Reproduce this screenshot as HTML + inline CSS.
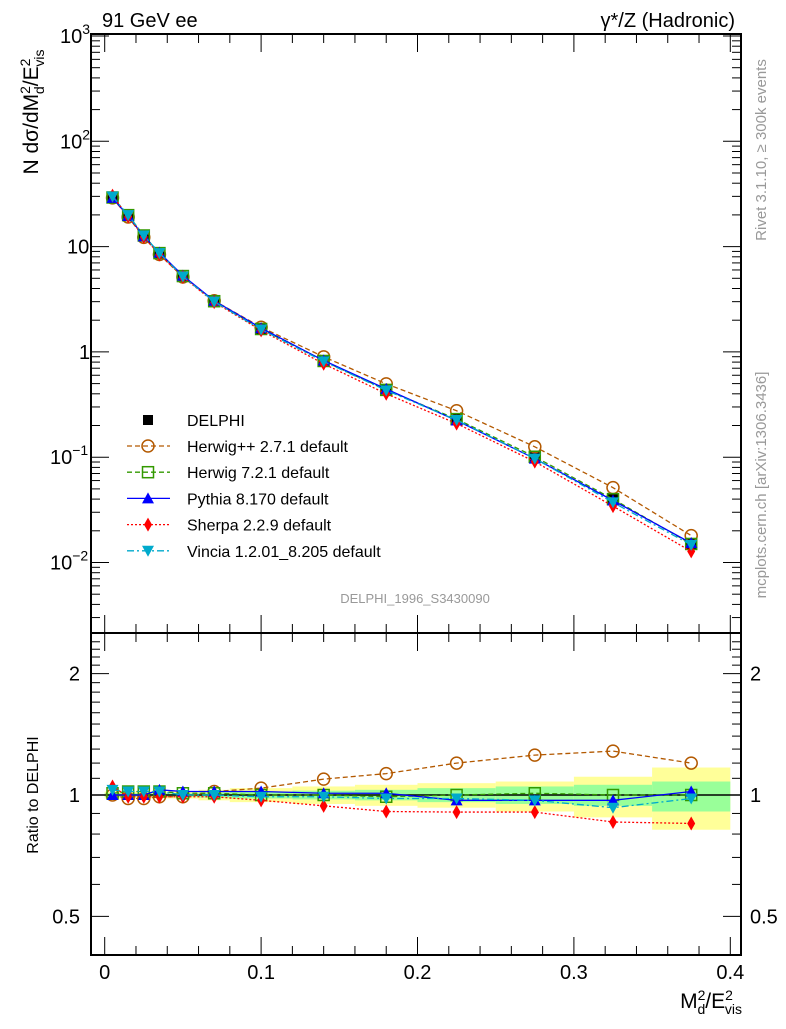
<!DOCTYPE html>
<html><head><meta charset="utf-8"><style>
html,body{margin:0;padding:0;background:#fff;}
svg text{font-family:"Liberation Sans",sans-serif;}
</style></head><body>
<svg id="c" width="786" height="1024" viewBox="0 0 786 1024" xmlns="http://www.w3.org/2000/svg"></svg>
<script>
const xCenters=[0.005,0.015,0.025,0.035,0.05,0.07,0.1,0.14,0.18,0.225,0.275,0.325,0.375];
const binEdges=[0,0.01,0.02,0.03,0.04,0.06,0.08,0.12,0.16,0.2,0.25,0.3,0.35,0.4];
const delphi=[29,19.5,12.5,8.5,5.2,3.0,1.65,0.82,0.44,0.23,0.10,0.040,0.015];
const rHerwigpp=[1.0,0.98,0.98,0.99,0.99,1.02,1.04,1.095,1.13,1.2,1.256,1.285,1.2];
const rHerwig7=[1.01,1.02,1.02,1.02,1.01,1.01,1.0,1.0,0.99,1.0,1.01,1.0,1.0];
const rPythia=[1.0,1.0,1.0,1.03,1.02,1.02,1.02,1.01,1.01,0.97,0.97,0.97,1.02];
const rSherpa=[1.05,0.99,0.99,0.99,0.99,0.99,0.97,0.94,0.91,0.907,0.907,0.857,0.85];
const rVincia=[1.03,1.02,1.02,1.02,1.0,1.0,0.99,0.99,0.98,0.98,0.97,0.93,0.98];
const yellowUp=[1.02,1.02,1.02,1.02,1.02,1.03,1.04,1.05,1.06,1.07,1.08,1.11,1.17];
const yellowLo=[0.98,0.98,0.98,0.98,0.98,0.97,0.96,0.95,0.94,0.93,0.91,0.88,0.82];
const greenUp=[1.01,1.01,1.01,1.01,1.01,1.015,1.02,1.025,1.03,1.04,1.05,1.06,1.08];
const greenLo=[0.99,0.99,0.99,0.99,0.99,0.985,0.98,0.975,0.97,0.96,0.95,0.94,0.91];
const xTicks=[0,0.1,0.2,0.3,0.4];
const xTickLabels=["0","0.1","0.2","0.3","0.4"];

const svg=document.getElementById('c');
const NS='http://www.w3.org/2000/svg';
const L=91,R=741,T=34,MB=633,RB=955;
const X=v=>104.7+v*1564;
const Y=v=>36-(Math.log10(v)-3)*105.3;
const YR=v=>795-Math.log10(v)*403;
function el(tag,attrs,parent){const e=document.createElementNS(NS,tag);for(const k in attrs)e.setAttribute(k,attrs[k]);(parent||svg).appendChild(e);return e;}
function txt(s,x,y,size,anchor,parent,fill){const t=el('text',{x:x,y:y,'font-size':size,'text-anchor':anchor||'start',fill:fill||'#000'},parent);t.textContent=s;return t;}

const gb=el('g',{});


for(let i=0;i<xCenters.length;i++){
 const x0=X(binEdges[i]),x1=X(binEdges[i+1]);
 const y=el('rect',{x:x0,y:YR(yellowUp[i]),width:x1-x0,height:YR(yellowLo[i])-YR(yellowUp[i]),fill:'#ffff99'},gb);
 
 
 const g=el('rect',{x:x0,y:YR(greenUp[i]),width:x1-x0,height:YR(greenLo[i])-YR(greenUp[i]),fill:'#99ff99'},gb);
 
 
}
el('line',{x1:L,x2:R,y1:YR(1),y2:YR(1),stroke:'#000','stroke-width':1.5});

for(const [t,b] of [[T,MB],[MB,RB]]){
 const f=el('rect',{x:L,y:t,width:R-L,height:b-t,fill:'none',stroke:'#000','stroke-width':2});
 
 
 for(let v=0;v<=0.4001;v+=0.02){
  const major=Math.abs(v*10-Math.round(v*10))<1e-6;const len=major?18:9;
  el('line',{x1:X(v),x2:X(v),y1:b,y2:b-len,stroke:'#000','stroke-width':1});
  el('line',{x1:X(v),x2:X(v),y1:t,y2:t+len,stroke:'#000','stroke-width':1});
 }
}
for(let d=-3;d<=3;d++){for(let m=1;m<10;m++){const v=m*Math.pow(10,d);const y=Y(v);if(y<T-0.5||y>MB)continue;const len=m==1?18:9;
 el('line',{x1:L,x2:L+len,y1:y,y2:y,stroke:'#000'});el('line',{x1:R,x2:R-len,y1:y,y2:y,stroke:'#000'});}}
const ylab=[[1000,'10','3'],[100,'10','2'],[10,'10',''],[1,'1',''],[0.1,'10','−1'],[0.01,'10','−2']];
for(const [v,b,e] of ylab){
 let x=b=='1'?79:(e?(e.length>1?50:60):67);
 const t=txt(b,x,Y(v)+7,20,'start');
 if(e){const s=el('tspan',{dy:-9,'font-size':14});s.textContent=e;t.appendChild(s);}
 }
for(let v=0.4;v<=2.5;v+=0.1){const y=YR(v);if(y<MB||y>RB)continue;const maj=[0.5,1,2].some(m=>Math.abs(m-v)<1e-6);const len=maj?18:9;
 el('line',{x1:L,x2:L+len,y1:y,y2:y,stroke:'#000'});el('line',{x1:R,x2:R-len,y1:y,y2:y,stroke:'#000'});}
for(const [v,s] of [[2,'2'],[1,'1'],[0.5,'0.5']]){txt(s,80,YR(v)+7,20,'end');txt(s,750,YR(v)+7,20,'start');}
xTicks.forEach((v,i)=>{const t=txt(xTickLabels[i],X(v),979,20,'middle');});

const series=[
 {name:'herwigpp',r:rHerwigpp,color:'#b35900',dash:'5,3',mk:'circle'},
 {name:'herwig7',r:rHerwig7,color:'#339900',dash:'5,3',mk:'square'},
 {name:'pythia',r:rPythia,color:'#0000ff',dash:'',mk:'tri'},
 {name:'sherpa',r:rSherpa,color:'#ff0000',dash:'2,2',mk:'diamond'},
 {name:'vincia',r:rVincia,color:'#00aacc',dash:'7,3,2,3',mk:'tridown'}];
function marker(kind,x,y,color,parent){
 if(kind=='circle')return el('circle',{cx:x,cy:y,r:6,fill:'none',stroke:color,'stroke-width':1.5},parent);
 if(kind=='square')return el('rect',{x:x-5.5,y:y-5.5,width:11,height:11,fill:'none',stroke:color,'stroke-width':1.5},parent);
 if(kind=='fsquare')return el('rect',{x:x-5,y:y-5,width:10,height:10,fill:color},parent);
 if(kind=='tri')return el('polygon',{points:`${x},${y-6} ${x-6},${y+5} ${x+6},${y+5}`,fill:color},parent);
 if(kind=='tridown')return el('polygon',{points:`${x},${y+6} ${x-6},${y-5} ${x+6},${y-5}`,fill:color},parent);
 if(kind=='diamond')return el('polygon',{points:`${x},${y-7} ${x-4},${y} ${x},${y+7} ${x+4},${y}`,fill:color},parent);
}
const gd=el('g',{});


for(const s of series){
 for(const yf of [Y,YR]){
  const g=el('g',{});
  
  
  const pts=xCenters.map((x,i)=>[X(x),yf===Y?Y(delphi[i]*s.r[i]):YR(s.r[i])]);
  el('polyline',{points:pts.map(p=>p.join(',')).join(' '),fill:'none',stroke:s.color,'stroke-width':1.3,'stroke-dasharray':s.dash},g);
  pts.forEach(p=>{const m=marker(s.mk,p[0],p[1],s.color,g);});
 }
}
xCenters.forEach((x,i)=>{const m=marker('fsquare',X(x),Y(delphi[i]),'#000',gd);});

const lg=el('g',{});


const legNames=['Herwig++ 2.7.1 default','Herwig 7.2.1 default','Pythia 8.170 default','Sherpa 2.2.9 default','Vincia 1.2.01_8.205 default'];
marker('fsquare',148,420,'#000',lg);txt('DELPHI',187,426,16,'start',lg);
series.forEach((s,i)=>{const y=446+i*26.2;
 const e=el('g',{},lg);
 
 
 el('line',{x1:127,x2:170,y1:y,y2:y,stroke:s.color,'stroke-width':1.3,'stroke-dasharray':s.dash},e);
 marker(s.mk,148,y,s.color,e);txt(legNames[i],187,y+6,16,'start',e);});

let t=txt('91 GeV ee',102,27,20,'start');
t=txt('γ*/Z (Hadronic)',735,27,20,'end');
t=txt('DELPHI_1996_S3430090',415,603,13,'middle',null,'#999');
t=el('text',{transform:'translate(38,112) rotate(-90)','font-size':21,'text-anchor':'middle'});
t.innerHTML='N dσ/dM<tspan dy="-8" font-size="14">2</tspan><tspan dx="-8" dy="14" font-size="14">d</tspan><tspan dy="-6">/E</tspan><tspan dy="-8" font-size="14">2</tspan><tspan dx="-8" dy="14" font-size="14">vis</tspan>';

t=el('text',{transform:'translate(38,795) rotate(-90)','font-size':16,'text-anchor':'middle'});t.textContent='Ratio to DELPHI';

t=el('text',{x:742,y:1008,'font-size':21,'text-anchor':'end'});
t.innerHTML='M<tspan dy="-8" font-size="14">2</tspan><tspan dx="-8" dy="14" font-size="14">d</tspan><tspan dy="-6">/E</tspan><tspan dy="-8" font-size="14">2</tspan><tspan dx="-8" dy="14" font-size="14">vis</tspan>';

t=el('text',{transform:'translate(766,150) rotate(-90)','font-size':15,'text-anchor':'middle',fill:'#999'});t.textContent='Rivet 3.1.10, ≥ 300k events';

t=el('text',{transform:'translate(766,485) rotate(-90)','font-size':15,'text-anchor':'middle',fill:'#999'});t.textContent='mcplots.cern.ch [arXiv:1306.3436]';

</script>
</body></html>
